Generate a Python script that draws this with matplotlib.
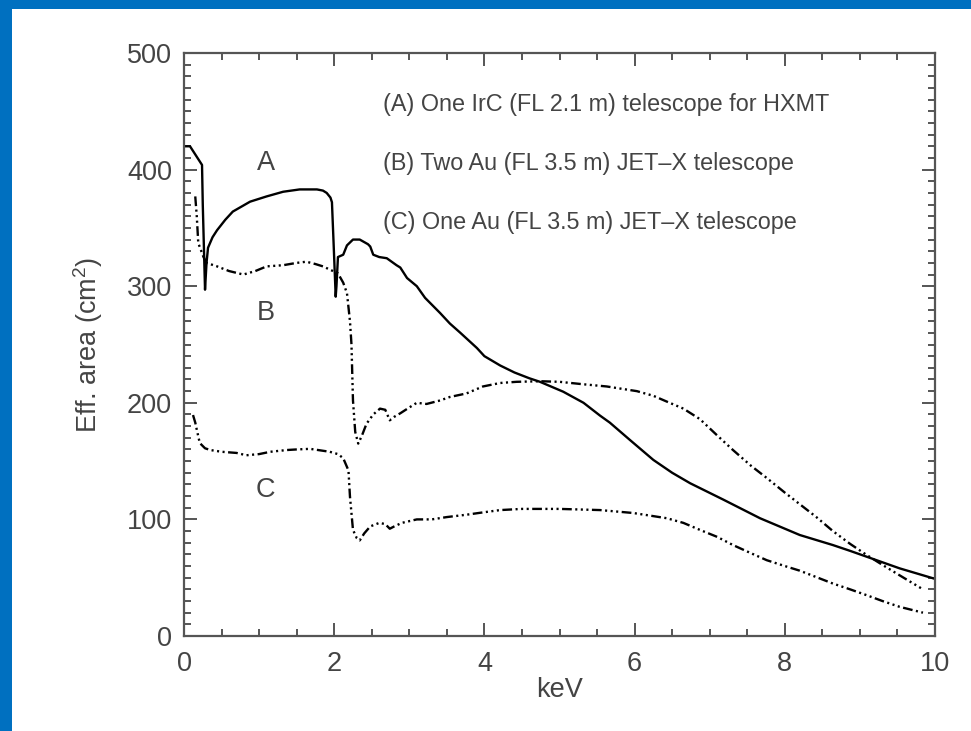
import matplotlib
matplotlib.use("Agg")
import matplotlib.pyplot as plt
from matplotlib.patches import Rectangle
from matplotlib.ticker import MultipleLocator

# ---- data ----
a_x = [0.0, 0.08, 0.24, 0.25, 0.28, 0.30, 0.32, 0.38, 0.44, 0.55, 0.65, 0.88, 1.1, 1.32, 1.54,
       1.77, 1.85, 1.9, 1.95, 1.97, 1.99, 2.02, 2.03, 2.05, 2.12, 2.17, 2.25, 2.34, 2.45, 2.48,
       2.52, 2.6, 2.7, 2.83, 2.88, 2.97, 3.10, 3.21, 3.41, 3.54, 3.68, 3.90, 4.0, 4.21, 4.4,
       4.6, 4.74, 5.05, 5.32, 5.54, 5.67, 5.94, 6.25, 6.5, 6.74, 7.18, 7.67, 8.2, 8.64, 8.87,
       9.09, 9.53, 10.0]
a_y = [420, 420, 404, 370, 297, 320, 333, 342, 348, 357, 364, 372.5, 377, 381, 383,
       383, 382, 380, 376, 372, 340, 291, 300, 325, 327, 335, 340, 340, 336, 334,
       327, 325, 324, 318, 316, 307, 300, 290, 277, 268, 260, 247, 240, 232, 226,
       221, 218, 209.5, 200, 189, 183, 168, 151, 140, 131, 117, 101, 86.6, 78, 73,
       68, 58, 49]

b_x = [0.15, 0.17, 0.19, 0.26, 0.30, 0.44, 0.6, 0.79, 0.95, 1.1, 1.32, 1.5, 1.63, 1.75, 1.85,
       2.05, 2.12, 2.17, 2.21, 2.23, 2.25, 2.28, 2.32, 2.37, 2.43, 2.52, 2.61, 2.68, 2.72, 2.74,
       2.8, 2.88, 3.0, 3.10, 3.23, 3.41, 3.54, 3.76, 3.98, 4.21, 4.43, 4.75, 5.0, 5.3, 5.63,
       6.03, 6.25, 6.43, 6.65, 6.87, 7.1, 7.31, 7.55, 7.76, 8.0, 8.2, 8.42, 8.64, 8.87, 9.09,
       9.3, 9.53, 9.84]
b_y = [377, 360, 337, 325, 320, 317, 313, 310, 313, 317, 318, 320, 321, 319, 317,
       311, 303, 294, 270, 250, 202, 175, 165, 172, 182, 190, 195, 194, 188, 185,
       188, 191, 196, 200, 199, 202, 205, 208, 214, 217, 218, 218.5, 218, 216, 214,
       210, 206, 201, 195, 186, 172, 159.5, 146, 135.5, 123, 113, 102, 90, 79, 69.5,
       61, 52, 40]

c_x = [0.12, 0.15, 0.17, 0.21, 0.28, 0.35, 0.5, 0.7, 0.83, 1.0, 1.15, 1.37, 1.5, 1.68, 1.94,
       2.05, 2.12, 2.19, 2.21, 2.25, 2.3, 2.34, 2.4, 2.48, 2.6, 2.68, 2.74, 2.8, 2.9, 3.1,
       3.3, 3.5, 3.76, 3.98, 4.21, 4.5, 5.0, 5.54, 5.98, 6.43, 6.65, 6.87, 7.1, 7.31, 7.55,
       7.76, 8.0, 8.2, 8.42, 8.64, 8.87, 9.09, 9.3, 9.53, 9.84]
c_y = [189.5, 183, 177, 165.5, 161, 159.5, 158, 157, 155, 156, 158, 159.5, 160, 160.5, 158,
       156, 152.5, 142, 119.5, 91, 84, 82, 88, 94, 97, 96, 92, 94, 97, 100,
       100, 102, 104, 106, 108, 109, 109, 108, 105.5, 101, 97, 91, 85, 78, 71,
       65, 60, 56, 50.5, 45, 40, 35, 30, 25, 20]

curve_labels = ["A", "B", "C"]
legend_lines = ["(A) One IrC (FL 2.1 m) telescope for HXMT",
                "(B) Two Au (FL 3.5 m) JET\u2013X telescope",
                "(C) One Au (FL 3.5 m) JET\u2013X telescope"]
x_label = "keV"
y_label = "Eff. area (cm$^2$)"

# ---- style ----
plt.rcParams['font.family'] = ['Liberation Sans', 'DejaVu Sans']
plt.rcParams['lines.scale_dashes'] = False
plt.rcParams['mathtext.fontset'] = 'custom'
plt.rcParams['mathtext.rm'] = 'Liberation Sans'
txt_col = '#444444'
ax_col = '#555555'

W, H = 971, 731
fig = plt.figure(figsize=(W / 100, H / 100), dpi=100)
fig.patch.set_facecolor('white')

# blue slide border
blue = '#0070C0'
fig.add_artist(Rectangle((0, 1 - 9 / H), 1, 9 / H, transform=fig.transFigure,
                         facecolor=blue, edgecolor='none'))
fig.add_artist(Rectangle((0, 0), 12 / W, 1, transform=fig.transFigure,
                         facecolor=blue, edgecolor='none'))

left, right, top, bottom = 184, 935, 53, 636
ax = fig.add_axes([left / W, (H - bottom) / H, (right - left) / W, (bottom - top) / H])

ddd = (0, (7, 2.5, 1.5, 2.5, 1.5, 2.5, 1.5, 2.5))
ax.plot(a_x, a_y, color='black', lw=1.7, solid_joinstyle='round')
ax.plot(b_x, b_y, color='black', lw=1.7, linestyle=ddd)
ax.plot(c_x, c_y, color='black', lw=1.7, linestyle=ddd)

ax.set_xlim(0, 10)
ax.set_ylim(0, 500)
ax.xaxis.set_major_locator(MultipleLocator(2))
ax.xaxis.set_minor_locator(MultipleLocator(0.5))
ax.yaxis.set_major_locator(MultipleLocator(100))
ax.yaxis.set_minor_locator(MultipleLocator(10))

for s in ax.spines.values():
    s.set_color(ax_col)
    s.set_linewidth(1.6)

ax.tick_params(which='both', direction='in', top=True, right=True, color=ax_col,
               width=1.4, labelcolor=txt_col, labelsize=19.5)
ax.tick_params(which='major', length=9.4)
ax.tick_params(which='minor', length=4.7)
ax.tick_params(axis='x', which='major', pad=11)
ax.tick_params(axis='y', which='major', pad=8.5)

# curve letters
label_pos_x = [1.09, 1.09, 1.09]
label_pos_y = [406, 277, 125]
for t, lx, ly in zip(curve_labels, label_pos_x, label_pos_y):
    ax.text(lx, ly, t, ha='center', va='center', fontsize=19.5, color=txt_col)

# legend text
leg_y = [456, 405.5, 355]
for t, ly in zip(legend_lines, leg_y):
    ax.text(2.65, ly, t, ha='left', va='center', fontsize=16.8, color=txt_col)

ax.text(0.5, (bottom - 690) / (bottom - top), x_label, transform=ax.transAxes,
        ha='center', va='center', fontsize=19.5, color=txt_col)
ax.text((88 - left) / (right - left), 0.5, y_label, transform=ax.transAxes,
        ha='center', va='center', rotation=90, fontsize=19.5, color=txt_col)

fig.savefig('out.png', dpi=100, facecolor='white')
